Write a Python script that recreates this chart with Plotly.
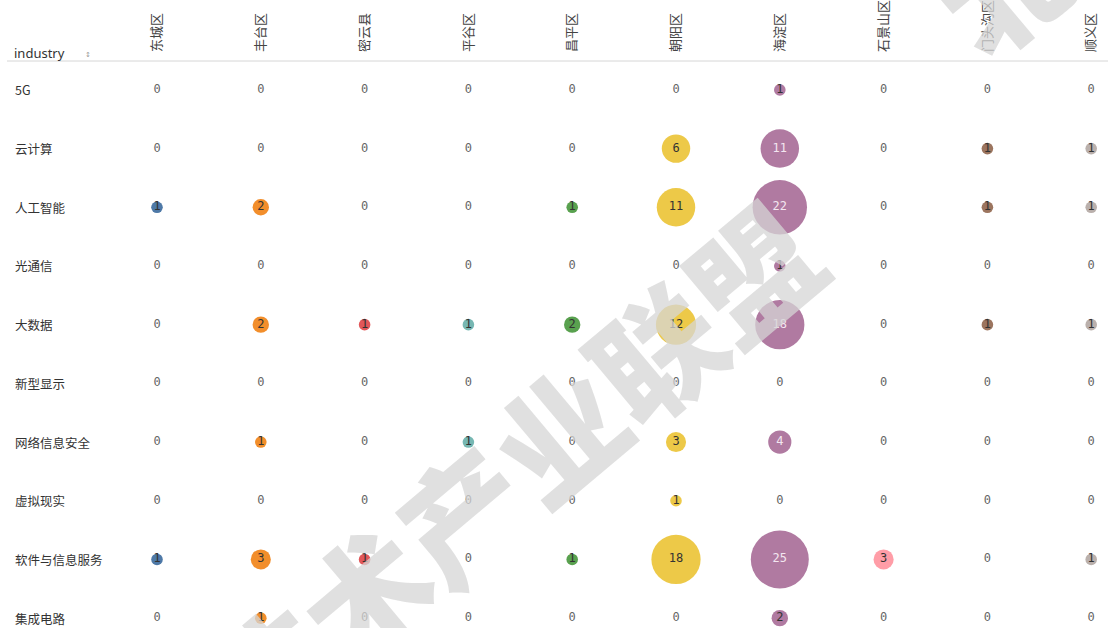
import numpy as np
import plotly.graph_objects as go

industries = ["5G", "云计算", "人工智能", "光通信", "大数据", "新型显示",
              "网络信息安全", "虚拟现实", "软件与信息服务", "集成电路"]
districts = ["东城区", "丰台区", "密云县", "平谷区", "昌平区", "朝阳区",
             "海淀区", "石景山区", "门头沟区", "顺义区"]

# counts per district, in the order of `industries`
dongcheng   = [0, 0, 1, 0, 0, 0, 0, 0, 1, 0]
fengtai     = [0, 0, 2, 0, 2, 0, 1, 0, 3, 1]
miyun       = [0, 0, 0, 0, 1, 0, 0, 0, 1, 0]
pinggu      = [0, 0, 0, 0, 1, 0, 1, 0, 0, 0]
changping   = [0, 0, 1, 0, 2, 0, 0, 0, 1, 0]
chaoyang    = [0, 6, 11, 0, 12, 0, 3, 1, 18, 0]
haidian     = [1, 11, 22, 1, 18, 0, 4, 0, 25, 2]
shijingshan = [0, 0, 0, 0, 0, 0, 0, 0, 3, 0]
mentougou   = [0, 1, 1, 0, 1, 0, 0, 0, 0, 0]
shunyi      = [0, 1, 1, 0, 1, 0, 0, 0, 1, 0]

series = [dongcheng, fengtai, miyun, pinggu, changping, chaoyang,
          haidian, shijingshan, mentougou, shunyi]
colors = ["#4e79a7", "#f28e2b", "#e15759", "#76b7b2", "#59a14f", "#edc948",
          "#b07aa1", "#ff9da7", "#9c755f", "#bab0ac"]

W, H = 1108, 628
TOP = 59

fig = go.Figure()
for name, vals, col in zip(districts, series, colors):
    v = np.array(vals, dtype=float)
    sizes = 11.6 * np.sqrt(v)
    tcol = []
    for val in vals:
        if val == 0:
            tcol.append("#666666")
        elif name == "海淀区" and val >= 4:
            tcol.append("#f3e6f0")
        else:
            tcol.append("#333333")
    fig.add_trace(go.Scatter(
        x=[name] * len(industries), y=industries,
        mode="markers+text",
        text=[str(x) for x in vals],
        textposition="middle center",
        textfont=dict(family="DejaVu Sans Mono", size=12, color=tcol),
        marker=dict(size=sizes, sizemode="diameter", color=col, opacity=1,
                    line=dict(width=0)),
        hoverinfo="skip", showlegend=False, cliponaxis=False,
    ))

annotations = []
for ind in industries:
    annotations.append(dict(
        text=ind, xref="paper", yref="y", x=13 / W, y=ind,
        xanchor="left", yanchor="middle", showarrow=False,
        font=dict(family="Noto Sans CJK SC", size=12.5, color="#333333")))

annotations.append(dict(
    text="industry", xref="paper", yref="paper", x=12 / W,
    y=(H - 51) / (H - TOP), xanchor="left", yanchor="middle", showarrow=False,
    font=dict(family="Noto Sans", size=13, color="#333333")))
annotations.append(dict(
    text="↕", xref="paper", yref="paper", x=88 / W,
    y=(H - 53) / (H - TOP), xanchor="center", yanchor="middle", showarrow=False,
    font=dict(family="DejaVu Sans", size=7, color="#999999")))

# watermark
wm_color = "rgba(214,214,214,0.75)"
annotations.append(dict(
    text="技术产业联盟", xref="paper", yref="paper",
    x=508 / W, y=(H - 470) / (H - TOP), xanchor="center", yanchor="middle",
    textangle=-40, showarrow=False,
    font=dict(family="Noto Sans CJK SC", size=126, color=wm_color, weight=900)))
annotations.append(dict(
    text="北", xref="paper", yref="paper",
    x=1000 / W, y=(H + 20) / (H - TOP), xanchor="center", yanchor="middle",
    textangle=-40, showarrow=False,
    font=dict(family="Noto Sans CJK SC", size=126, color=wm_color, weight=900)))

step_x = 103.8
x0 = 157
step_y = 58.9
y0 = 88 - TOP

fig.update_layout(
    width=W, height=H,
    margin=dict(l=0, r=0, t=TOP, b=0),
    paper_bgcolor="white", plot_bgcolor="white",
    hovermode=False,
    xaxis=dict(type="category", categoryorder="array", categoryarray=districts,
               side="top", range=[-x0 / step_x, (W - x0) / step_x],
               showgrid=False, zeroline=False, showline=False, ticks="",
               tickangle=-90, ticklabelstandoff=8,
               tickfont=dict(family="Noto Sans CJK SC", size=13, color="#444444"),
               fixedrange=True),
    yaxis=dict(type="category", categoryorder="array", categoryarray=industries,
               range=[(H - TOP - y0) / step_y, -y0 / step_y],
               showgrid=False, zeroline=False, showline=False,
               showticklabels=False, ticks="", fixedrange=True),
    annotations=annotations,
    shapes=[dict(type="line", xref="paper", yref="paper", x0=7 / W, x1=1,
                 y0=1, y1=1, line=dict(color="#d6d6d6", width=1))],
)

fig.write_html(
    "out.html",
    config={"displayModeBar": False},
    post_script="document.body.style.margin='0';document.body.style.overflow='hidden';",
)
